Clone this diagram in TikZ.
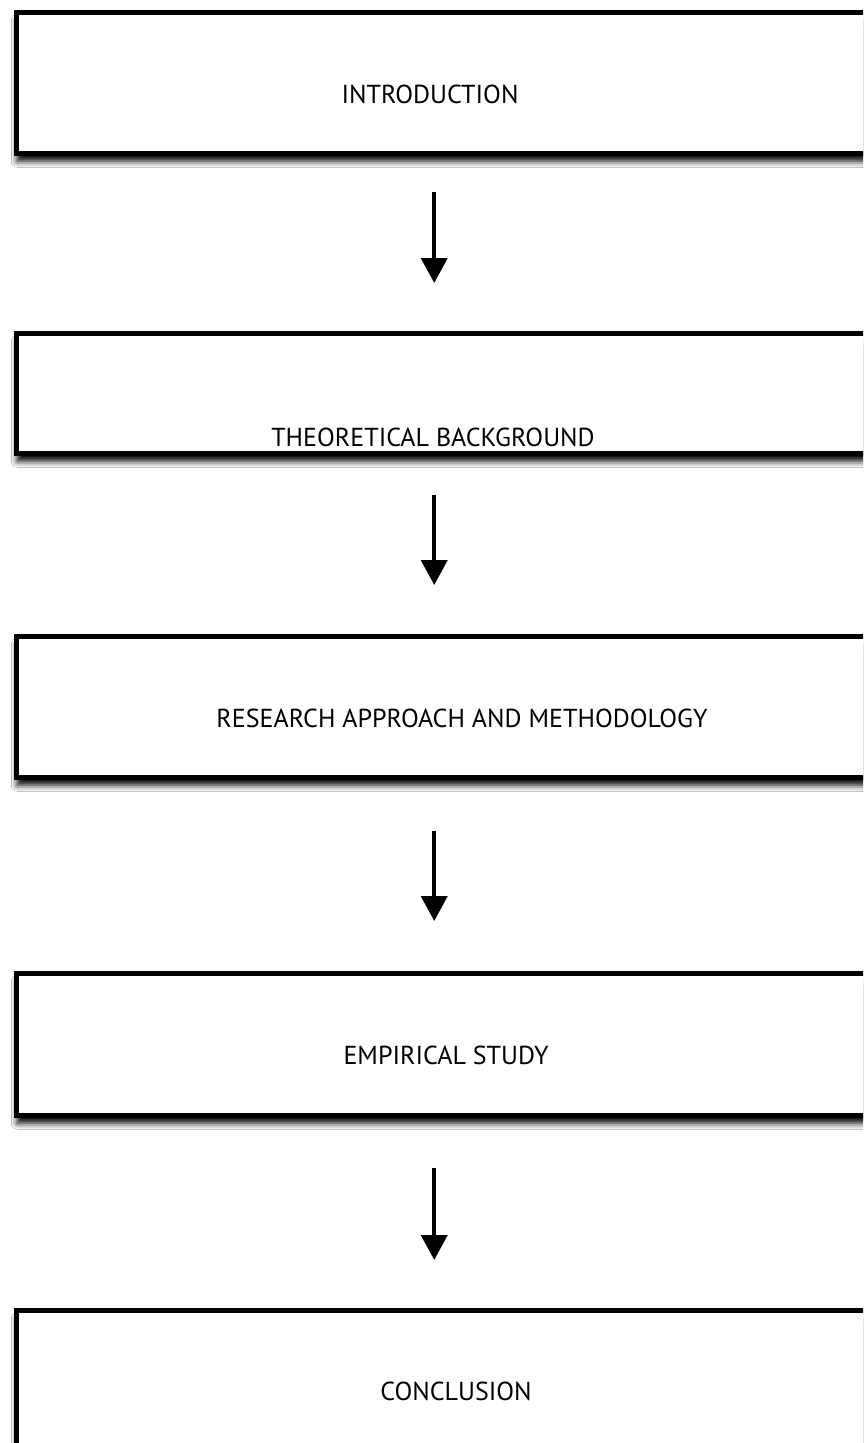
\documentclass[tikz,border=0pt]{standalone}
\usepackage{fontspec}
\setmainfont{PT Sans}
\usetikzlibrary{arrows.meta,shadows.blur}
\begin{document}
\begin{tikzpicture}[
  x=1pt, y=-1pt,
  every node/.style={font=\fontsize{26}{30}\selectfont},
  box/.style={draw, line width=4.5pt, fill=white, minimum width=856pt, anchor=north west, inner sep=0pt,
    blur shadow={shadow xshift=1pt, shadow yshift=-8pt, shadow blur radius=6pt, shadow opacity=100}},
  label/.style={inner sep=0pt, anchor=base},
  flow/.style={line width=4pt, -{Triangle[length=25pt,width=26pt]}}
]
  \clip (0,0) rectangle (863,1443);
  \fill[white] (0,0) rectangle (863,1443);

  \node[box, minimum height=141pt] (intro) at (14,10) {};
  \node[box, minimum height=120pt] (theory) at (14,331) {};
  \node[box, minimum height=141pt] (method) at (14,634) {};
  \node[box, minimum height=142pt] (study) at (14,971) {};
  \node[box, minimum height=160pt] (concl) at (14,1308) {};

  \node[label] (introtext) at (430,103) {INTRODUCTION};
  \node[label] (theorytext) at (433,446) {THEORETICAL BACKGROUND};
  \node[label] (methodtext) at (462,727) {RESEARCH APPROACH AND METHODOLOGY};
  \node[label] (studytext) at (446,1064) {EMPIRICAL STUDY};
  \node[label] (concltext) at (456,1400) {CONCLUSION};

  \draw[flow, shorten <=36pt, shorten >=48pt] ([xshift=-10pt]intro.south) -- ([xshift=-10pt]theory.north);
  \draw[flow, shorten <=39pt, shorten >=49pt] ([xshift=-10pt]theory.south) -- ([xshift=-10pt]method.north);
  \draw[flow, shorten <=51pt, shorten >=50pt] ([xshift=-10pt]method.south) -- ([xshift=-10pt]study.north);
  \draw[flow, shorten <=50pt, shorten >=48pt] ([xshift=-10pt]study.south) -- ([xshift=-10pt]concl.north);
\end{tikzpicture}
\end{document}
